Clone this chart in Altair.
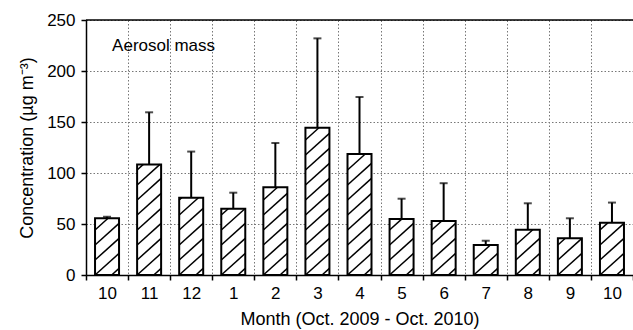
import math
import altair as alt
import pandas as pd

# Monthly aerosol mass concentration, Oct. 2009 - Oct. 2010
months = ["10", "11", "12", "1", "2", "3", "4", "5", "6", "7", "8", "9", "10"]
mean_conc = [55.6, 108.4, 75.8, 65.0, 86.0, 144.3, 118.6, 55.0, 53.0, 29.4, 44.4, 36.0, 51.3]
std_dev = [1.5, 51.1, 45.2, 15.7, 43.4, 87.7, 55.9, 19.8, 37.0, 4.2, 25.9, 19.6, 19.7]

FONT = "Liberation Sans"
FS = 17
W, H = 547, 255
N = len(months)
PX_X = W / N          # pixels per category
PX_Y = H / 250.0      # pixels per concentration unit
BAR_PX = 24           # bar width in pixels
HALF = BAR_PX / 2 / PX_X

bars = pd.DataFrame({
    "pos": [i + 0.5 for i in range(N)],
    "left": [i + 0.5 - HALF for i in range(N)],
    "right": [i + 0.5 + HALF for i in range(N)],
    "conc": mean_conc,
    "upper": [m + s for m, s in zip(mean_conc, std_dev)],
    "month": months,
})

# diagonal hatching clipped to each bar
STEP, SLOPE = 15.0, 0.9
rows = []
for i, m in enumerate(mean_conc):
    h = m * PX_Y
    xl = i + 0.5 - HALF
    for k in range(math.ceil(-SLOPE * BAR_PX / STEP), math.floor(h / STEP) + 1):
        c = k * STEP
        u0 = max(0.0, -c / SLOPE)
        u1 = min(float(BAR_PX), (h - c) / SLOPE)
        if u1 - u0 > 0.5:
            rows.append({
                "hx": xl + u0 / PX_X, "hy": (SLOPE * u0 + c) / PX_Y,
                "hx2": xl + u1 / PX_X, "hy2": (SLOPE * u1 + c) / PX_Y,
            })
hatch = pd.DataFrame(rows)

label_list = "[" + ",".join("'%s'" % m for m in months) + "]"
x_axis = alt.Axis(
    values=list(range(N + 1)),
    labelExpr="datum.value < %d ? %s[datum.value] : ''" % (N, label_list),
    labelOffset=PX_X / 2, labelFlush=False, labelOverlap=False, labelBound=False,
    tickSize=5, tickColor="black", tickWidth=1.5,
    domainColor="black", domainWidth=1.5,
    grid=True, gridColor="#777777", gridDash=[1.5, 2], gridWidth=1,
    labelFont=FONT, labelFontSize=FS, labelColor="black", labelPadding=5,
    title="Month (Oct. 2009 - Oct. 2010)", titleFont=FONT, titleFontSize=18,
    titleFontWeight="normal", titleColor="black", titlePadding=9,
)
y_axis = alt.Axis(
    values=[0, 50, 100, 150, 200, 250],
    tickSize=5, tickColor="black", tickWidth=1.5,
    domainColor="black", domainWidth=1.5,
    grid=True, gridColor="#777777", gridDash=[1.5, 2], gridWidth=1,
    labelFont=FONT, labelFontSize=FS, labelColor="black", labelPadding=6,
    title="Concentration (µg m⁻³)", titleFont=FONT, titleFontSize=18,
    titleFontWeight="normal", titleColor="black", titlePadding=10,
)
x_scale = alt.Scale(domain=[0, N], nice=False, zero=False)
y_scale = alt.Scale(domain=[0, 250], nice=False)


def X(field):
    return alt.X(field, type="quantitative", scale=x_scale, axis=x_axis)


def Y(field):
    return alt.Y(field, type="quantitative", scale=y_scale, axis=y_axis)


base = alt.Chart(bars)
single = alt.Chart(pd.DataFrame({"note": ["Aerosol mass"]}))

fill = base.mark_bar(color="white", stroke=None).encode(
    x=X("left"), x2="right", y=Y("conc"), y2=alt.datum(0)
)
lines = alt.Chart(hatch).mark_rule(color="black", strokeWidth=1.5, strokeCap="butt").encode(
    x=X("hx"), x2="hx2", y=Y("hy"), y2="hy2"
)
outline = base.mark_bar(fill=None, stroke="black", strokeWidth=2).encode(
    x=X("left"), x2="right", y=Y("conc"), y2=alt.datum(0)
)
err = base.mark_rule(color="black", strokeWidth=2).encode(
    x=X("pos"), y=Y("conc"), y2="upper"
)
cap = base.mark_tick(orient="horizontal", size=8, thickness=2, color="black").encode(
    x=X("pos"), y=Y("upper")
)
top = single.mark_rule(color="black", strokeWidth=1.5).encode(y=alt.datum(250))
label = single.mark_text(
    font=FONT, fontSize=FS, align="left", baseline="middle", color="black"
).encode(text="note:N", x=alt.datum(0.62), y=alt.datum(224.5))

chart = alt.layer(fill, lines, outline, err, cap, top, label).properties(
    width=W, height=H, autosize="none",
    padding={"left": 86, "top": 20, "right": 0, "bottom": 55},
    background="white",
).configure_view(stroke=None)

chart.save("out.html", embed_options={"renderer": "svg", "actions": False})
